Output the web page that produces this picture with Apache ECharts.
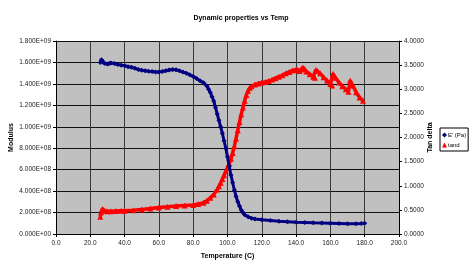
<!DOCTYPE html>
<html>
<head>
<meta charset="utf-8">
<script src="https://cdn.jsdelivr.net/npm/echarts@6/dist/echarts.min.js"></script>
<style>
    html, body { margin: 0; padding: 0; background: #fff; }
    #chart { width: 472px; height: 265px; }
</style>
</head>
<body>
<div id="chart"></div>
<script>
// storage modulus E' (Pa) vs temperature (C)
var modulusData = [
    [25.8, 1.600e9], [26.5, 1.625e9], [27, 1.615e9], [27.5, 1.600e9], [28.5, 1.590e9], [30, 1.585e9],
    [31, 1.590e9], [32, 1.595e9], [34, 1.590e9], [36, 1.580e9], [38, 1.575e9], [40, 1.570e9],
    [42, 1.560e9], [44, 1.555e9], [46, 1.545e9], [48, 1.535e9], [50, 1.528e9], [52, 1.522e9],
    [54, 1.518e9], [56, 1.515e9], [58, 1.510e9], [60, 1.510e9], [62, 1.515e9], [64, 1.522e9],
    [66, 1.530e9], [68, 1.535e9], [70, 1.532e9], [72, 1.522e9], [74, 1.510e9], [76, 1.500e9],
    [78, 1.485e9], [80, 1.470e9], [82, 1.450e9], [84, 1.430e9], [86, 1.410e9], [88, 1.380e9],
    [89, 1.350e9], [90, 1.320e9], [91, 1.280e9], [92, 1.240e9], [93, 1.180e9], [94, 1.120e9],
    [95, 1.060e9], [96, 1.000e9], [97, 0.940e9], [98, 0.870e9], [99, 0.800e9], [100, 0.720e9],
    [101, 0.630e9], [102, 0.550e9], [103, 0.480e9], [104, 0.410e9], [105, 0.350e9], [106, 0.300e9],
    [107, 0.260e9], [108, 0.225e9], [109, 0.200e9], [110, 0.180e9], [112, 0.160e9], [114, 0.148e9],
    [116, 0.140e9], [120, 0.133e9], [125, 0.127e9], [130, 0.120e9], [135, 0.115e9], [140, 0.110e9],
    [145, 0.107e9], [150, 0.104e9], [155, 0.102e9], [160, 0.100e9], [165, 0.098e9], [170, 0.096e9],
    [175, 0.095e9], [178, 0.097e9], [180, 0.100e9]
];
// tan delta vs temperature (C)
var tandData = [
    [25.8, 0.36], [26.3, 0.45], [27, 0.52], [27.5, 0.50], [28.5, 0.48], [30, 0.47], [32, 0.47],
    [35, 0.475], [38, 0.48], [40, 0.48], [45, 0.49], [50, 0.51], [55, 0.53], [60, 0.55], [65, 0.565],
    [70, 0.58], [75, 0.59], [80, 0.60], [83, 0.62], [86, 0.65], [88, 0.69], [90, 0.75], [92, 0.82],
    [94, 0.92], [95, 0.99], [96, 1.06], [97, 1.14], [98, 1.22], [99, 1.30], [100, 1.38], [101, 1.46],
    [102, 1.56], [103, 1.68], [104, 1.82], [105, 1.98], [106, 2.15], [107, 2.32], [108, 2.48],
    [109, 2.62], [110, 2.76], [111, 2.88], [112, 2.97], [113, 3.03], [114, 3.06], [116, 3.10],
    [118, 3.12], [120, 3.14], [122, 3.15], [124, 3.17], [126, 3.20], [128, 3.23], [130, 3.26],
    [132, 3.29], [134, 3.33], [136, 3.36], [138, 3.39], [140, 3.41], [141, 3.40], [142, 3.38],
    [143, 3.41], [144, 3.45], [145, 3.42], [146, 3.37], [148, 3.31], [150, 3.26], [151, 3.24],
    [151.5, 3.40], [152.5, 3.38], [154, 3.33], [156, 3.25], [158, 3.18], [160, 3.11], [161, 3.08],
    [161.5, 3.32], [163, 3.24], [165, 3.14], [167, 3.06], [169, 3.00], [170.5, 2.95], [171.5, 3.18],
    [173, 3.08], [175, 2.94], [177, 2.83], [179, 2.76]
];
var seriesNames = ["E' (Pa)", 'tand'];

function sci(v) {
    if (v === 0) { return '0.000E+00'; }
    var e = Math.floor(Math.log10(Math.abs(v)) + 1e-9);
    var m = v / Math.pow(10, e);
    return m.toFixed(3) + 'E+' + (e < 10 ? '0' : '') + e;
}

var font = 'Liberation Sans, Arial, sans-serif';
var chart = echarts.init(document.getElementById('chart'));
chart.setOption({
    animation: false,
    textStyle: { fontFamily: font },
    title: {
        text: 'Dynamic properties vs Temp',
        left: 236,
        top: 10,
        textAlign: 'center',
        textStyle: { fontSize: 7, fontWeight: 'bold', color: '#000', fontFamily: font }
    },
    legend: {
        data: [
            { name: seriesNames[0], icon: 'diamond' },
            { name: seriesNames[1], icon: 'triangle' }
        ],
        orient: 'vertical',
        left: 440,
        top: 128,
        itemWidth: 5,
        itemHeight: 5,
        itemGap: 4,
        padding: [4, 2, 3, 2],
        borderColor: '#000',
        borderWidth: 1,
        borderRadius: 0,
        backgroundColor: '#fff',
        textStyle: { fontSize: 6, color: '#000', padding: [0, 0, 0, -4] }
    },
    grid: {
        left: 55,
        right: 73,
        top: 41,
        bottom: 26,
        show: true,
        backgroundColor: '#c0c0c0',
        borderWidth: 0
    },
    xAxis: {
        type: 'value',
        min: 0,
        max: 200,
        interval: 20,
        name: 'Temperature (C)',
        nameLocation: 'middle',
        nameGap: 19,
        nameMoveOverlap: false,
        nameTextStyle: { fontSize: 7, fontWeight: 'bold', color: '#000' },
        axisLine: { show: true, onZero: false, lineStyle: { color: '#000', width: 1 } },
        axisTick: { show: true, length: 3, lineStyle: { color: '#000' } },
        axisLabel: {
            fontSize: 6.5, color: '#222', margin: 6,
            formatter: function (v) { return v.toFixed(1); }
        },
        splitLine: { show: true, lineStyle: { color: '#3a3a3a', width: 1 } }
    },
    yAxis: [
        {
            type: 'value',
            min: 0,
            max: 1.8e9,
            interval: 2e8,
            name: 'Modulus',
            nameLocation: 'middle',
            nameRotate: 90,
            nameGap: 41,
            nameMoveOverlap: false,
            nameTextStyle: { fontSize: 7, fontWeight: 'bold', color: '#000' },
            axisLine: { show: true, lineStyle: { color: '#000', width: 1 } },
            axisTick: { show: true, length: 3, lineStyle: { color: '#000' } },
            axisLabel: { fontSize: 6.5, color: '#222', margin: 5, formatter: sci },
            splitLine: { show: true, lineStyle: { color: '#111', width: 1 } }
        },
        {
            type: 'value',
            min: 0,
            max: 4,
            interval: 0.5,
            name: 'Tan delta',
            nameLocation: 'middle',
            nameRotate: 90,
            nameGap: 28,
            nameMoveOverlap: false,
            nameTextStyle: { fontSize: 7, fontWeight: 'bold', color: '#000' },
            axisLine: { show: true, lineStyle: { color: '#000', width: 1 } },
            axisTick: { show: true, length: 3, lineStyle: { color: '#000' } },
            axisLabel: {
                fontSize: 6.5, color: '#222', margin: 5,
                formatter: function (v) { return v.toFixed(4); }
            },
            splitLine: { show: false }
        }
    ],
    series: [
        {
            name: seriesNames[0],
            type: 'line',
            yAxisIndex: 0,
            data: modulusData,
            symbol: 'diamond',
            symbolSize: 5,
            itemStyle: { color: '#000080' },
            lineStyle: { color: '#000080', width: 3 },
            z: 3
        },
        {
            name: seriesNames[1],
            type: 'line',
            yAxisIndex: 1,
            data: tandData,
            symbol: 'triangle',
            symbolSize: 6,
            itemStyle: { color: '#ff0000' },
            lineStyle: { color: '#ff0000', width: 3.5 },
            z: 2
        }
    ]
});
</script>
</body>
</html>
